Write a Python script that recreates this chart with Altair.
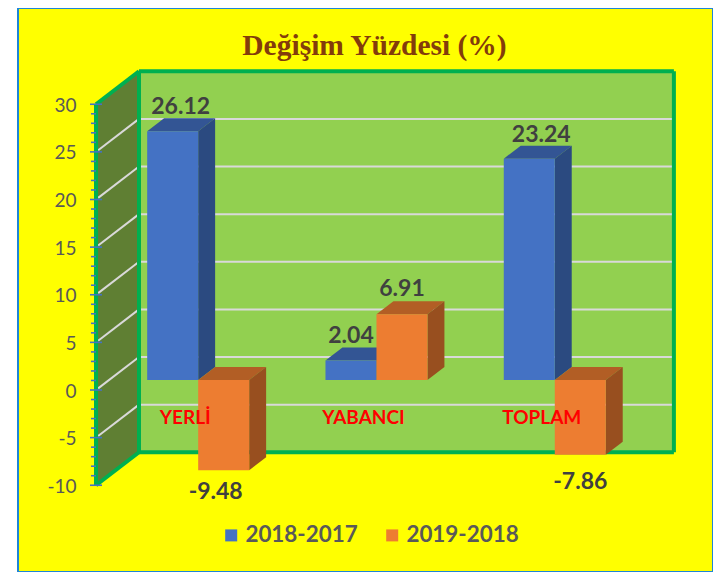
import altair as alt
import pandas as pd

# ---- chart values
categories = ["YERLİ", "YABANCI", "TOPLAM"]
series_names = ["2018-2017", "2019-2018"]
values_2018_2017 = [26.12, 2.04, 23.24]
values_2019_2018 = [-9.48, 6.91, -7.86]
axis_ticks = [-10, -5, 0, 5, 10, 15, 20, 25, 30]
grid_levels = [-5, 0, 5, 10, 15, 20, 25]

# ---- oblique 3D projection (category units, value units, depth 0..1)
PX_PER_CAT, PX_PER_VAL = 178.3, 9.525
DEPTH_X = 43 / PX_PER_CAT
DEPTH_Y = 33 / PX_PER_VAL
D0, D1 = 10 / 33, 23 / 33
BAR_W = 51 / PX_PER_CAT
N = len(categories)

xs = alt.Scale(domain=[(18 - 96) / PX_PER_CAT, (713 - 96) / PX_PER_CAT], nice=False, zero=False)
ys = alt.Scale(domain=[(390 - 572) / PX_PER_VAL, (390 - 8) / PX_PER_VAL], nice=False, zero=False)


def px(c, d):
    return c + DEPTH_X * d


def py(v, d):
    return v + DEPTH_Y * d


value_axis = alt.Axis(
    values=axis_ticks, offset=-78, ticks=False, domain=False, grid=False,
    labelPadding=20, labelFont="Lato", labelFontSize=19, labelColor="#595959", labelOffset=1,
    labelExpr="'' + datum.value", zindex=1, title=None)

X = alt.X("x:Q", scale=xs, axis=None)
Y = alt.Y("y:Q", scale=ys, axis=value_axis)


def face_v(rows, color):
    """Faces with vertical sides: rows (group, x, y, y2)."""
    df = pd.DataFrame(rows, columns=["g", "x", "y", "y2"])
    return alt.Chart(df).mark_area(color=color, opacity=1, interpolate="linear").encode(
        x=X, y=Y, y2=alt.Y2("y2:Q"), detail="g:N")


def face_h(rows, color):
    """Faces with horizontal edges: rows (group, y, x, x2)."""
    df = pd.DataFrame(rows, columns=["g", "y", "x", "x2"])
    return alt.Chart(df).mark_area(color=color, opacity=1, orient="horizontal", interpolate="linear").encode(
        y=Y, x=X, x2=alt.X2("x2:Q"), detail="g:N")


def segs(rows, color, width):
    df = pd.DataFrame(rows, columns=["x", "y", "x2", "y2"])
    return alt.Chart(df).mark_rule(color=color, strokeWidth=width).encode(
        x=X, y=Y, x2=alt.X2("x2:Q"), y2=alt.Y2("y2:Q"))


layers = []

# walls
layers.append(face_v([(0, px(0, 0), py(30, 0), py(-10, 0)), (0, px(0, 1), py(30, 1), py(-10, 1))], "#5F7F33"))
layers.append(face_v([(0, px(0, 1), py(30, 1), py(-10, 1)), (0, px(N, 1), py(30, 1), py(-10, 1))], "#92D050"))

# grid
layers.append(segs([(px(0, 1), py(g, 1), px(N, 1), py(g, 1)) for g in grid_levels], "#D9D9D9", 2))
layers.append(segs([(px(0, 0.05), py(g, 0.05), px(0, 1), py(g, 1)) for g in grid_levels], "#D9D9D9", 2))

# frame
frame = [
    (px(0, 0), py(-10, 0), px(0, 0), py(30, 0)),
    (px(0, 0), py(30, 0), px(0, 1), py(30, 1)),
    (px(0, 1), py(30, 1), px(N, 1), py(30, 1)),
    (px(N, 1), py(30, 1), px(N, 1), py(-10, 1)),
    (px(N, 1), py(-10, 1), px(0, 1), py(-10, 1)),
    (px(0, 1), py(-10, 1), px(0, 0), py(-10, 0)),
    (px(0, 1), py(-10, 1), px(0, 1), py(30, 1)),
]
layers.append(segs(frame, "#00B050", 4))

# axis ticks (1 unit minor, 5 unit major)
tick_rows = []
for v in range(-10, 31):
    if v % 5 == 0:
        tick_rows.append((px(0, 0) - 6 / PX_PER_CAT, v, px(0, 0) + 6 / PX_PER_CAT, v))
    else:
        tick_rows.append((px(0, 0) - 5 / PX_PER_CAT, v, px(0, 0), v))
layers.append(segs(tick_rows, "#4472C4", 1.6))

# bars
color_scale = alt.Scale(domain=series_names, range=["#4472C4", "#ED7D31"])
legend = alt.Legend(
    title=None, orient="none", legendX=202, legendY=516, direction="horizontal",
    symbolType="square", symbolSize=144, symbolStrokeWidth=0, labelFont="Lato", labelFontSize=22.4,
    labelFontWeight="bold", labelColor="#595959", labelOffset=3, columnPadding=23, padding=0,
)


def bars(vals, name, off, top_col, side_col):
    tops, sides, fronts = [], [], []
    for i, v in enumerate(vals):
        c0 = i + 0.5 + off * BAR_W
        c1 = c0 + BAR_W
        hi, lo = max(v, 0), min(v, 0)
        tops.append((i, py(hi, D0), px(c0, D0), px(c1, D0)))
        tops.append((i, py(hi, D1), px(c0, D1), px(c1, D1)))
        sides.append((i, px(c1, D0), py(hi, D0), py(lo, D0)))
        sides.append((i, px(c1, D1), py(hi, D1), py(lo, D1)))
        fronts.append((px(c0, D0), px(c1, D0), py(hi, D0), py(lo, D0), name))
    fdf = pd.DataFrame(fronts, columns=["x", "x2", "y", "y2", "series"])
    return [
        face_h(tops, top_col),
        face_v(sides, side_col),
        alt.Chart(fdf).mark_rect().encode(
            x=X, x2=alt.X2("x2:Q"), y=Y, y2=alt.Y2("y2:Q"),
            color=alt.Color("series:N", scale=color_scale, legend=legend)),
    ]


layers += bars(values_2018_2017, series_names[0], -1, "#335594", "#2B4A80")
layers += bars(values_2019_2018, series_names[1], 0, "#B25E25", "#984F1F")

# category labels
cat_df = pd.DataFrame({"x": [px(i + 0.5, D0) - 13 / PX_PER_CAT for i in range(N)],
                       "y": [(390 - 418) / PX_PER_VAL] * N, "t": categories})
layers.append(alt.Chart(cat_df).mark_text(
    font="Lato", fontSize=19, fontWeight="bold", color="#FF0000", baseline="middle", align="center"
).encode(x=X, y=Y, text="t:N"))


# value labels
def value_label(v, cat, off, dx, dy):
    c = cat + 0.5 + (off + 0.5) * BAR_W
    yv = py(max(v, 0), D1) if v > 0 else py(v, D0)
    df = pd.DataFrame({"x": [px(c, D0)], "y": [yv], "t": [f"{v:.2f}"]})
    return alt.Chart(df).mark_text(
        font="Lato", fontSize=23, fontWeight="bold", color="#404040",
        baseline="middle", align="center", dx=dx, dy=dy).encode(x=X, y=Y, text="t:N")


layers.append(value_label(values_2018_2017[0], 0, -1, 8, -11))
layers.append(value_label(values_2018_2017[1], 1, -1, 0, -12))
layers.append(value_label(values_2018_2017[2], 2, -1, 12, -11))
layers.append(value_label(values_2019_2018[0], 0, 0, -8, 22))
layers.append(value_label(values_2019_2018[1], 1, 0, 0, -12))
layers.append(value_label(values_2019_2018[2], 2, 0, 0, 27))

chart = alt.layer(*layers).properties(
    width=695, height=564,
    padding={"left": 10, "top": 0, "right": 0, "bottom": 0},
    autosize=alt.AutoSizeParams(type="none"),
    background="#FFFFFF",
    title=alt.TitleParams(
        "Değişim Yüzdesi (%)", font="Liberation Serif", fontSize=29.5, fontWeight="bold",
        color="#833C0B", offset=-53, anchor="middle", frame="group", dx=9),
).configure_view(fill="#FFFF00", stroke="#1F86D6", strokeWidth=2)

chart.save("out.html", embed_options={"renderer": "svg", "actions": False})
